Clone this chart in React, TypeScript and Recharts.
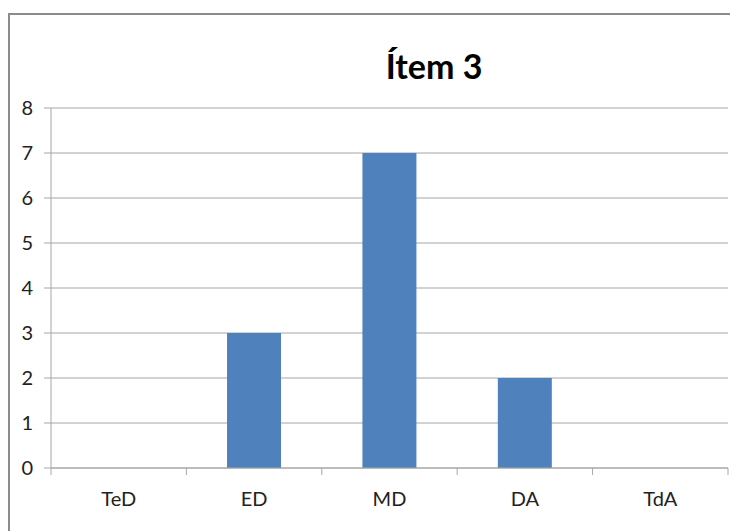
import { BarChart, Bar, XAxis, YAxis, CartesianGrid } from "recharts"

const categories = ["TeD", "ED", "MD", "DA", "TdA"]
const counts = [0, 3, 7, 2, 0]
const yTicks = [0, 1, 2, 3, 4, 5, 6, 7, 8]

const data = categories.map((name, i) => ({ name, value: counts[i] }))

const gray = "#a6a6a6"
const font = "Lato, 'Open Sans', sans-serif"
const X_TICK_SIZE = 7
const X_TICK_MARGIN = 17

// category label plus tick marks at the band edges (offset = half band from the scale)
const CategoryTick = ({ x, y, payload, index }: any) => {
  const axisY = y - X_TICK_SIZE - X_TICK_MARGIN
  const half = payload.offset || 0
  const last = index === categories.length - 1
  return (
    <g>
      <line x1={x - half} x2={x - half} y1={axisY} y2={axisY + X_TICK_SIZE} stroke={gray} />
      {last && <line x1={x + half} x2={x + half} y1={axisY} y2={axisY + X_TICK_SIZE} stroke={gray} />}
      <text x={x} y={y} dy="0.71em" textAnchor="middle" fill="#222" fontSize={20} fontFamily={font}>
        {payload.value}
      </text>
    </g>
  )
}

const ValueTick = ({ x, y, payload }: any) => (
  <text x={x} y={y} dy="0.355em" textAnchor="end" fill="#222" fontSize={20} fontFamily={font}>
    {payload.value}
  </text>
)

export default function App() {
  return (
    <div
      style={{
        position: "relative",
        marginTop: 5,
        width: 740,
        height: 530,
        border: "2px solid #8c8c8c",
        fontFamily: font,
        background: "#fff",
      }}
    >
      <div
        style={{
          position: "absolute",
          left: 0,
          width: 848,
          top: 30,
          textAlign: "center",
          fontSize: 34,
          fontWeight: 700,
          color: "#000",
        }}
      >
        Ítem 3
      </div>
      <BarChart
        width={730}
        height={520}
        data={data}
        margin={{ top: 93, right: 12, left: 0, bottom: 37 }}
        barCategoryGap="30%"
      >
        <CartesianGrid vertical={false} stroke={gray} />
        <XAxis
          dataKey="name"
          height={30}
          interval={0}
          axisLine={{ stroke: gray }}
          tickLine={false}
          tickSize={X_TICK_SIZE}
          tickMargin={X_TICK_MARGIN}
          tick={<CategoryTick />}
        />
        <YAxis
          width={41}
          domain={[0, 8]}
          ticks={yTicks}
          interval={0}
          axisLine={{ stroke: gray }}
          tickLine={{ stroke: gray }}
          tickSize={7}
          tickMargin={11}
          tick={<ValueTick />}
        />
        <Bar dataKey="value" fill="#4f81bd" isAnimationActive={false} />
      </BarChart>
    </div>
  )
}
